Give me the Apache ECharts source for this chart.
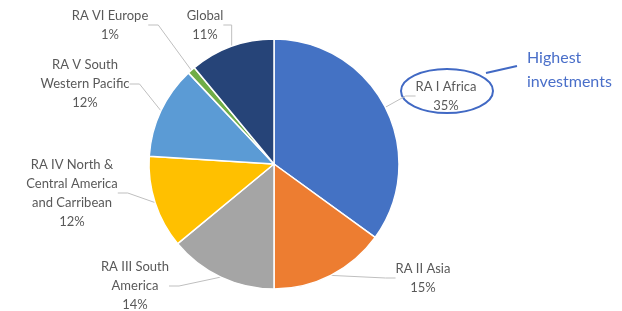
<!DOCTYPE html>
<html>
<head>
<meta charset="utf-8">
<script src="https://cdn.jsdelivr.net/npm/echarts@6/dist/echarts.min.js"></script>
<style>
  html, body { margin: 0; padding: 0; background: #fff; }
  #chart { width: 622px; height: 311px; }
</style>
</head>
<body>
<div id="chart"></div>
<script>
// regions, clockwise from 12 o'clock
const regions = [
  'RA I Africa',
  'RA II Asia',
  'RA III South\nAmerica',
  'RA IV North &\nCentral America\nand Carribean',
  'RA V South\nWestern Pacific',
  'RA VI Europe',
  'Global'
]
const shares = [35, 15, 14, 12, 12, 1, 11]
const colors = ['#4472C4', '#ED7D31', '#A5A5A5', '#FFC000', '#5B9BD5', '#70AD47', '#264478']

// where each label block sits (centre of the text)
const labelSpots = [
  [446, 96], [423, 278], [135, 286], [72, 193], [85, 84], [110, 25], [205, 25]
]

const chart = echarts.init(document.getElementById('chart'))

chart.setOption({
  animation: false,
  color: colors,
  series: [
    {
      type: 'pie',
      center: [274, 164],
      radius: 125,
      startAngle: 90,
      clockwise: true,
      itemStyle: { borderColor: '#fff', borderWidth: 1.5 },
      data: regions.map((name, i) => ({ name: name, value: shares[i] })),
      label: {
        show: true,
        formatter: p => p.name + '\n' + p.value + '%',
        fontFamily: 'Lato',
        fontSize: 13,
        lineHeight: 19,
        color: '#595959',
        align: 'center'
      },
      labelLine: {
        show: true,
        length: 10,
        length2: 10,
        lineStyle: { color: '#bfbfbf', width: 1 }
      },
      labelLayout: function (params) {
        const s = labelSpots[params.dataIndex]
        return { x: s[0], y: s[1], align: 'center', verticalAlign: 'middle' }
      }
    }
  ],
  graphic: [
    {
      type: 'ellipse',
      shape: { cx: 447, cy: 91, rx: 46, ry: 22 },
      style: { fill: 'none', stroke: '#4169C4', lineWidth: 2 }
    },
    {
      type: 'line',
      shape: { x1: 486, y1: 73, x2: 517, y2: 66 },
      style: { stroke: '#4169C4', lineWidth: 2 }
    },
    {
      type: 'text',
      left: 527,
      top: 46,
      style: {
        text: 'Highest\ninvestments',
        fontFamily: 'Lato',
        fontSize: 16,
        lineHeight: 24,
        fill: '#4A6FC9'
      }
    }
  ]
})
</script>
</body>
</html>
